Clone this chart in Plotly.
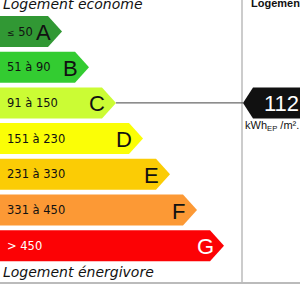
import plotly.graph_objects as go

# ---- data ----
classes = ["A", "B", "C", "D", "E", "F", "G"]
range_labels = ["≤ 50", "51 à 90", "91 à 150", "151 à 230", "231 à 330", "331 à 450", "> 450"]
upper_bounds = [50, 90, 150, 230, 330, 450, float("inf")]
class_colors = ["#319834", "#33cc31", "#cbfc34", "#fbfe06", "#fbcc05", "#fc9935", "#fc0205"]
value = 112
unit_label = "kWh<sub>EP</sub> /m²."
top_title = "Logement économe"
bottom_title = "Logement énergivore"
right_title = "Logement"

# ---- layout geometry (pixel-like axis units) ----
W, H = 300, 285
row_top0, row_pitch, row_h = 16, 35.7, 31
body0, body_step, tip_w = 48, 27, 14
arrow_x, arrow_tip = 243, 10

fig = go.Figure()
annotations = []

for i, (cls, lab, col) in enumerate(zip(classes, range_labels, class_colors)):
    y0 = row_top0 + i * row_pitch
    y1 = y0 + row_h
    ym = (y0 + y1) / 2
    xb = body0 + i * body_step
    xt = xb + tip_w
    fig.add_trace(go.Scatter(
        x=[0, xb, xt, xb, 0, 0], y=[y0, y0, ym, y1, y1, y0],
        mode="lines", fill="toself", fillcolor=col,
        line=dict(width=0, color=col), hoverinfo="skip", showlegend=False))
    txtcol = "white" if cls == "G" else "#111"
    if lab.startswith("≤"):
        lab_html = "<span style='font-size:9px'>≤</span> " + lab[2:]
    else:
        lab_html = lab
    annotations.append(dict(x=5, y=ym, text=lab_html, xanchor="left", yanchor="middle",
                            showarrow=False, font=dict(family="DejaVu Sans", size=11.5, color=txtcol)))
    annotations.append(dict(x=xb - 5, y=ym + 1, text=cls, xanchor="center", yanchor="middle",
                            showarrow=False, font=dict(family="Liberation Sans", size=22, color=txtcol)))

# value marker
idx = next(i for i, ub in enumerate(upper_bounds) if value <= ub)
y0 = row_top0 + idx * row_pitch
y1 = y0 + row_h
ym = (y0 + y1) / 2
fig.add_trace(go.Scatter(
    x=[arrow_x, arrow_x + arrow_tip, W + 5, W + 5, arrow_x + arrow_tip, arrow_x],
    y=[ym, y0, y0, y1, y1, ym], mode="lines", fill="toself", fillcolor="#111",
    line=dict(width=0, color="#111"), hoverinfo="skip", showlegend=False))
xt_sel = body0 + idx * body_step + tip_w
fig.add_trace(go.Scatter(x=[xt_sel, arrow_x], y=[ym, ym], mode="lines",
                         line=dict(width=1, color="#444"), hoverinfo="skip", showlegend=False))
annotations.append(dict(x=262, y=ym + 1, text=str(value), xanchor="left", yanchor="middle",
                        showarrow=False, font=dict(family="Liberation Sans", size=22, color="white")))
annotations.append(dict(x=243, y=y1 + 8, text=unit_label, xanchor="left", yanchor="middle",
                        showarrow=False, font=dict(family="Liberation Sans", size=11, color="#111")))

# titles
annotations.append(dict(x=1, y=4, text=top_title, xanchor="left", yanchor="middle",
                        showarrow=False, font=dict(family="DejaVu Sans", size=14, color="#111", style="italic")))
annotations.append(dict(x=1, y=272, text=bottom_title, xanchor="left", yanchor="middle",
                        showarrow=False, font=dict(family="DejaVu Sans", size=14, color="#111", style="italic")))
annotations.append(dict(x=249, y=3, text="<b>" + right_title + "</b>", xanchor="left", yanchor="middle",
                        showarrow=False, font=dict(family="Liberation Sans", size=11, color="#111")))

shapes = [
    dict(type="line", x0=242, x1=242, y0=0, y1=283, line=dict(color="#cccccc", width=2), layer="below"),
    dict(type="line", x0=0, x1=W, y0=283, y1=283, line=dict(color="#bbbbbb", width=2), layer="below"),
]

fig.update_layout(
    width=W, height=H, margin=dict(l=0, r=0, t=0, b=0),
    paper_bgcolor="white", plot_bgcolor="white",
    xaxis=dict(range=[0, W], visible=False, fixedrange=True),
    yaxis=dict(range=[H, 0], visible=False, fixedrange=True),
    annotations=annotations, shapes=shapes, showlegend=False,
)
fig.write_html("out.html")
